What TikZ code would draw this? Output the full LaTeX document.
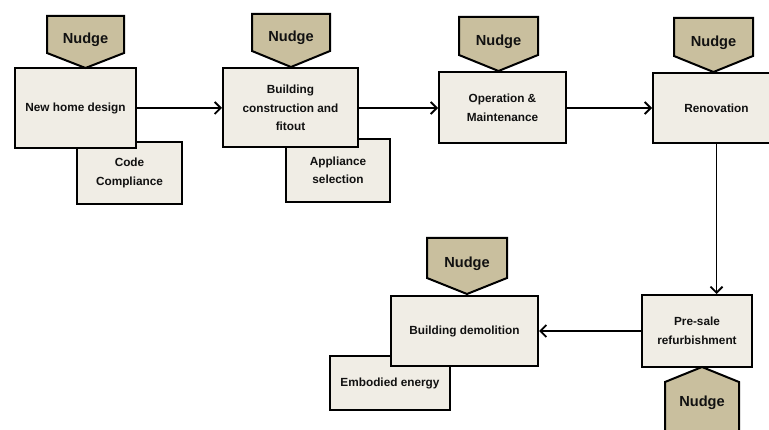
\documentclass[tikz,border=0pt]{standalone}
\usepackage{fontspec}
\setmainfont{Liberation Sans}
\usetikzlibrary{arrows.meta}
\definecolor{nudgefill}{HTML}{C9BF9E}
\definecolor{boxfill}{HTML}{F0EDE5}
\definecolor{ink}{HTML}{111111}
\begin{document}
\begin{tikzpicture}[x=1pt,y=-1pt,
  box/.style={draw=black, line width=2pt, fill=boxfill, inner sep=0pt, align=center,
    text=ink, font=\bfseries\fontsize{11.8}{18.5}\selectfont},
  nudgeshape/.style={draw=black, line width=2pt, fill=nudgefill, line join=miter},
  nudgetxt/.style={inner sep=0pt, text=ink, font=\bfseries\fontsize{14.6}{16}\selectfont},
  flow/.style={draw=black, line width=1.8pt, -{Straight Barb[length=6pt,width=12pt,line width=1.8pt]}}]
\useasboundingbox (0,0) rectangle (769,430);
\clip (0,0) rectangle (769,430);
\fill[white] (0,0) rectangle (769,430);

% secondary boxes (behind)
\node[box, minimum width=105pt, minimum height=62pt] (code) at (129.5,173) {Code\\Compliance};
\node[box, minimum width=104pt, minimum height=63pt] (app) at (338,170.5) {Appliance\\selection};
\node[box, minimum width=120pt, minimum height=54pt] (emb) at (390,383) {Embodied energy};

% main boxes
\node[box, minimum width=121pt, minimum height=80pt] (nhd) at (75.5,108) {New home design};
\node[box, minimum width=135pt, minimum height=79pt] (bc) at (290.5,108) {Building\\construction and\\fitout};
\node[box, minimum width=127pt, minimum height=71pt] (om) at (502.5,108) {Operation \&\\Maintenance};
\node[box, minimum width=127pt, minimum height=70pt] (renov) at (716.5,108) {Renovation};
\node[box, minimum width=110pt, minimum height=72pt] (presale) at (697,331) {Pre-sale\\refurbishment};
\node[box, minimum width=147pt, minimum height=70pt] (demol) at (464.5,331) {Building demolition};

% nudges
\draw[nudgeshape] (47,16) -- (124,16) -- (124,53) -- (85.5,68) -- (47,53) -- cycle;
\node[nudgetxt] (n1) at (85.5,40) {Nudge};
\draw[nudgeshape] (252,14) -- (330,14) -- (330,51) -- (291,67) -- (252,51) -- cycle;
\node[nudgetxt] (n2) at (291,38) {Nudge};
\draw[nudgeshape] (459,17) -- (538,17) -- (538,55) -- (498.5,71) -- (459,55) -- cycle;
\node[nudgetxt] (n3) at (498.5,42) {Nudge};
\draw[nudgeshape] (674,18) -- (753,18) -- (753,56) -- (713.5,72) -- (674,56) -- cycle;
\node[nudgetxt] (n4) at (713.5,43) {Nudge};
\draw[nudgeshape] (427,238) -- (507,238) -- (507,278) -- (467,294) -- (427,278) -- cycle;
\node[nudgetxt] (n5) at (467,264) {Nudge};
\draw[nudgeshape] (665,445) -- (665,382) -- (702,367) -- (739,382) -- (739,445) -- cycle;
\node[nudgetxt] (n6) at (702,403) {Nudge};

% connectors
\draw[flow] (nhd.east) -- (bc.west);
\draw[flow] (bc.east) -- (om.west);
\draw[flow] (om.east) -- (renov.west);
\draw[flow] (renov.south) -- (renov.south |- presale.north);
\draw[flow] (presale.west) -- (demol.east);
\end{tikzpicture}
\end{document}
